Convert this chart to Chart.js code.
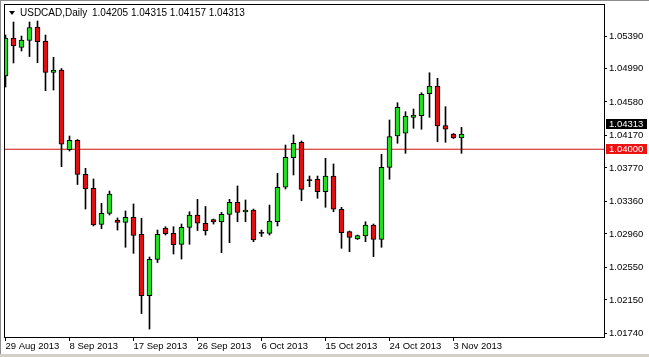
<!DOCTYPE html>
<html>
<head>
<meta charset="utf-8">
<script src="https://cdn.jsdelivr.net/npm/chart.js@4.4.0/dist/chart.umd.min.js"></script>
<style>
html, body { margin: 0; padding: 0; background: #fff; }
canvas { display: block; }
</style>
</head>
<body>
<canvas id="chart" width="649" height="357"></canvas>
<script>
// daily USDCAD bars (oldest first)
var opens = [
  1.04899, 1.05365, 1.05249, 1.05335, 1.05500, 1.05329, 1.04944, 1.04973, 1.03994, 1.04110,
  1.03692, 1.03520, 1.03076, 1.03211, 1.03131, 1.03103, 1.03164, 1.02956, 1.02202, 1.02646,
  1.03033, 1.02968, 1.02833, 1.03039, 1.03193, 1.03091, 1.03137, 1.03107, 1.03201, 1.03349,
  1.03230, 1.03254, 1.02968, 1.02968, 1.03110, 1.03533, 1.03896, 1.04085, 1.03616, 1.03631,
  1.03479, 1.03671, 1.03263, 1.02988, 1.02898, 1.02935, 1.03070, 1.02894, 1.03778, 1.04162,
  1.04196, 1.04392, 1.04412, 1.04682, 1.04776, 1.04289, 1.04187, 1.04138
];
var highs = [
  1.05402, 1.05562, 1.05390, 1.05562, 1.05574, 1.05402, 1.05129, 1.04991, 1.04162, 1.04119,
  1.03766, 1.03635, 1.03336, 1.03487, 1.03156, 1.03242, 1.03328, 1.03152, 1.02677, 1.03008,
  1.03049, 1.03049, 1.03082, 1.03233, 1.03385, 1.03297, 1.03143, 1.03226, 1.03385, 1.03549,
  1.03377, 1.03266, 1.03008, 1.03315, 1.03705, 1.04052, 1.04175, 1.04101, 1.03671, 1.03671,
  1.03889, 1.03819, 1.03287, 1.02996, 1.02947, 1.03110, 1.03082, 1.03938, 1.04359, 1.04571,
  1.04461, 1.04494, 1.04694, 1.04939, 1.04871, 1.04522, 1.04193, 1.04269
];
var lows = [
  1.04764, 1.05059, 1.05206, 1.05138, 1.05062, 1.04719, 1.04727, 1.03786, 1.03978, 1.03567,
  1.03266, 1.03058, 1.03024, 1.03193, 1.03008, 1.02796, 1.02722, 1.01983, 1.01793, 1.02609,
  1.02947, 1.02714, 1.02652, 1.02833, 1.03002, 1.02947, 1.03082, 1.02730, 1.02853, 1.03110,
  1.03110, 1.02865, 1.02929, 1.02947, 1.03058, 1.03512, 1.03684, 1.03368, 1.03540, 1.03398,
  1.03287, 1.03233, 1.02784, 1.02742, 1.02892, 1.02865, 1.02681, 1.02796, 1.03631, 1.04073,
  1.03950, 1.04257, 1.04245, 1.04392, 1.04092, 1.04085, 1.04132, 1.03950
];
var closes = [
  1.05365, 1.05267, 1.05341, 1.05494, 1.05320, 1.04944, 1.04973, 1.04061, 1.04110, 1.03692,
  1.03512, 1.03070, 1.03213, 1.03450, 1.03103, 1.03164, 1.02943, 1.02202, 1.02649, 1.02956,
  1.02963, 1.02828, 1.03042, 1.03193, 1.03091, 1.03000, 1.03107, 1.03201, 1.03349, 1.03223,
  1.03254, 1.02886, 1.02970, 1.03119, 1.03533, 1.03901, 1.04073, 1.03508, 1.03614, 1.03479,
  1.03671, 1.03263, 1.02975, 1.02919, 1.02939, 1.03070, 1.02894, 1.03778, 1.04154, 1.04515,
  1.04408, 1.04420, 1.04674, 1.04776, 1.04285, 1.04245, 1.04138, 1.04187
];

// x axis: a date label every 8 bars
var dateLabels = ['29 Aug 2013', '8 Sep 2013', '17 Sep 2013', '26 Sep 2013', '6 Oct 2013', '15 Oct 2013', '24 Oct 2013', '3 Nov 2013'];
var dateBars = [0, 8, 16, 24, 32, 40, 48, 56];

// price axis
var priceTicks = [1.05390, 1.04990, 1.04580, 1.04170, 1.03770, 1.03360, 1.02960, 1.02550, 1.02150, 1.01740];
var headerOHLC = [1.04205, 1.04315, 1.04157, 1.04313];
var bidPrice = 1.04313;
var levelPrice = 1.04000;

var FONT = '"Liberation Sans", Arial, sans-serif';
var xMin = -0.1875, xMax = 74.8125;
var yMin = 1.01695, yMax = 1.05783;

var wickData = highs.map(function (h, i) { return { x: i, y: [lows[i], h] }; });
var bodyData = opens.map(function (o, i) { return { x: i, y: [o, closes[i]] }; });
var bodyColors = opens.map(function (o, i) {
  var c = closes[i];
  if (Math.abs(c - o) < 0.00004) return '#000000';
  return c > o ? '#22dd22' : '#dd1111';
});

var mt4Frame = {
  id: 'mt4Frame',
  beforeDraw: function (chart) {
    var ctx = chart.ctx;
    ctx.save();
    ctx.fillStyle = '#ffffff';
    ctx.fillRect(0, 0, chart.width, chart.height);
    ctx.restore();
  },
  afterDraw: function (chart) {
    var ctx = chart.ctx;
    var a = chart.chartArea;
    var ys = chart.scales.y;
    ctx.save();

    // plot frame
    ctx.strokeStyle = '#000000';
    ctx.lineWidth = 1;
    ctx.strokeRect(a.left + 0.5, a.top + 0.5, a.right - a.left, a.bottom - a.top);

    // window edges
    ctx.fillStyle = '#8c8c8c';
    ctx.fillRect(0, 0, chart.width, 1);
    ctx.fillRect(0, 0, 1, chart.height);
    ctx.fillStyle = '#d4d0c8';
    ctx.fillRect(0, chart.height - 3, chart.width, 3);

    // header
    ctx.fillStyle = '#000000';
    ctx.beginPath();
    ctx.moveTo(9, 11); ctx.lineTo(15, 11); ctx.lineTo(12, 15); ctx.closePath();
    ctx.fill();
    ctx.font = '10px ' + FONT;
    ctx.textBaseline = 'middle';
    ctx.textAlign = 'left';
    ctx.fillText('USDCAD,Daily', 20, 13);
    ctx.fillText(headerOHLC.map(function (v) { return v.toFixed(5); }).join(' '), 92, 13);

    // price tags on the axis
    function tag(price, bg) {
      var y = Math.round(ys.getPixelForValue(price));
      ctx.fillStyle = bg;
      ctx.fillRect(606, y - 5, 41, 10);
      ctx.fillStyle = '#ffffff';
      ctx.font = '9.5px ' + FONT;
      ctx.fillText(price.toFixed(5), 609, y + 0.5);
    }
    tag(bidPrice, '#000000');
    tag(levelPrice, '#ee1111');
    ctx.restore();
  }
};

var ctx = document.getElementById('chart').getContext('2d');
var chart = new Chart(ctx, {
  type: 'bar',
  data: {
    datasets: [
      {
        type: 'line',
        data: [{ x: xMin, y: levelPrice }, { x: xMax, y: levelPrice }],
        borderColor: '#d01010',
        borderWidth: 1,
        pointRadius: 0,
        order: 3
      },
      {
        data: wickData,
        backgroundColor: '#000000',
        barThickness: 1,
        grouped: false,
        order: 2
      },
      {
        data: bodyData,
        backgroundColor: bodyColors,
        borderColor: '#000000',
        borderWidth: 1,
        borderSkipped: false,
        barThickness: 5,
        minBarLength: 1,
        grouped: false,
        order: 1
      }
    ]
  },
  options: {
    responsive: false,
    animation: false,
    events: [],
    layout: { padding: { left: 4, top: 4, right: 0, bottom: 0 } },
    plugins: { legend: { display: false }, tooltip: { enabled: false } },
    scales: {
      x: {
        type: 'linear',
        min: xMin,
        max: xMax,
        offset: false,
        border: { display: false },
        grid: { drawOnChartArea: false, drawTicks: true, tickLength: 4, color: '#000000', offset: false },
        ticks: {
          align: 'start',
          padding: 0,
          maxRotation: 0,
          autoSkip: false,
          color: '#000000',
          font: { family: FONT, size: 9.5 },
          callback: function (v, i) { return dateLabels[i]; }
        },
        afterBuildTicks: function (scale) {
          scale.ticks = dateBars.map(function (b) { return { value: b }; });
        },
        afterFit: function (scale) {
          scale.height = 20;
          scale.paddingLeft = 0;
          scale.paddingRight = 0;
        }
      },
      y: {
        type: 'linear',
        position: 'right',
        min: yMin,
        max: yMax,
        beginAtZero: false,
        border: { display: false },
        grid: { drawOnChartArea: false, drawTicks: true, tickLength: 3, color: '#000000' },
        ticks: {
          padding: 2,
          autoSkip: false,
          color: '#000000',
          font: { family: FONT, size: 9.5 },
          callback: function (v) { return Number(v).toFixed(5); }
        },
        afterBuildTicks: function (scale) {
          scale.ticks = priceTicks.map(function (p) { return { value: p }; });
        },
        afterFit: function (scale) {
          scale.width = 45;
          scale.paddingTop = 0;
          scale.paddingBottom = 0;
        }
      }
    }
  },
  plugins: [mt4Frame]
});
</script>
</body>
</html>
